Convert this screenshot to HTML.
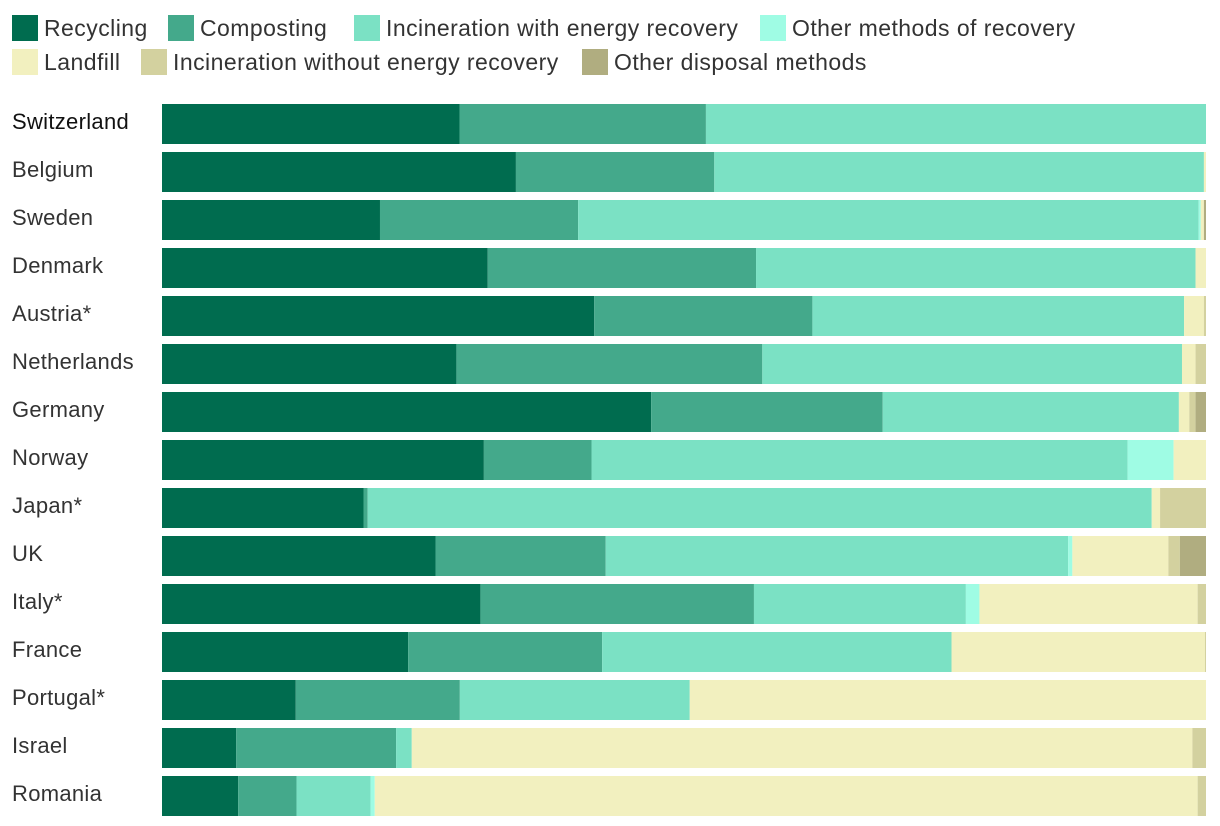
<!DOCTYPE html>
<html><head><meta charset="utf-8">
<style>
body{margin:0;width:1220px;height:826px;background:#fff;font-family:"Liberation Sans",sans-serif;color:#333;overflow:hidden;position:relative}
.lg{position:absolute;display:flex;align-items:center;font-size:23px;height:28px;letter-spacing:0.45px}
.lg span.sw{width:26px;height:26px;margin-right:6px;display:inline-block}
.lab{position:absolute;left:12px;font-size:22px;line-height:40px;letter-spacing:0.3px}
</style></head><body>
<div id="legend"></div>
<svg id="chart" width="1220" height="826" style="position:absolute;left:0;top:0"></svg>
<div id="labels"></div>
<script>
const countries=["Switzerland","Belgium","Sweden","Denmark","Austria*","Netherlands","Germany","Norway","Japan*","UK","Italy*","France","Portugal*","Israel","Romania"];
const seriesNames=["Recycling","Composting","Incineration with energy recovery","Other methods of recovery","Landfill","Incineration without energy recovery","Other disposal methods"];
const recycling=[28.5,33.9,20.9,31.2,41.4,28.2,46.9,30.8,19.3,26.2,30.5,23.6,12.8,7.1,7.3];
const composting=[23.6,19.0,19.0,25.7,20.9,29.3,22.2,10.3,0.4,16.3,26.2,18.6,15.7,15.3,5.6];
const incinEnergy=[47.9,46.9,59.5,42.1,35.6,40.2,28.4,51.3,75.1,44.3,20.3,33.5,22.0,1.5,7.1];
const otherRecovery=[0,0,0.2,0,0,0,0,4.4,0,0.4,1.3,0,0,0,0.4];
const landfill=[0,0.2,0.3,1.0,1.9,1.3,1.0,3.1,0.8,9.2,20.9,24.3,49.4,74.7,78.9];
const incinNoEnergy=[0,0,0,0,0.2,1.0,0.6,0,4.4,1.1,0.8,0.1,0,1.3,0.8];
const otherDisposal=[0,0,0.2,0,0,0,1.0,0,0,2.5,0,0,0,0,0];
const series=[recycling,composting,incinEnergy,otherRecovery,landfill,incinNoEnergy,otherDisposal];
const colors=["#006c4f","#44a98b","#7be1c4","#9ffce4","#f2f0bf","#d3d19f","#b0ad80"];
const x0=162,x1=1206,y0=104,step=48,bh=40;
const sx=v=>x0+(x1-x0)*v/100;
const svg=document.getElementById('chart');const NS="http://www.w3.org/2000/svg";
countries.forEach((c,i)=>{
  const tot=series.reduce((s,a)=>s+a[i],0);let acc=0;
  series.forEach((a,k)=>{
    const v=a[i]/tot*100;if(v<=0)return;
    const r=document.createElementNS(NS,'rect');
    r.setAttribute('x',sx(acc));r.setAttribute('width',sx(acc+v)-sx(acc));
    r.setAttribute('y',y0+i*step);r.setAttribute('height',bh);r.setAttribute('fill',colors[k]);
    
    
    svg.appendChild(r);acc+=v;
  });
  const l=document.createElement('div');l.className='lab';l.textContent=c;
  l.style.top=(y0+i*step-2)+'px';if(i==0)l.style.color='#111';
  
  
  document.getElementById('labels').appendChild(l);
});
const lpos=[[12,14],[168,14],[354,14],[760,14],[12,48],[141,48],[582,48]];
seriesNames.forEach((n,k)=>{
  const d=document.createElement('div');d.className='lg';
  d.style.left=lpos[k][0]+'px';d.style.top=lpos[k][1]+'px';
  d.innerHTML='<span class="sw" style="background:'+colors[k]+'"></span>'+n;
  
  
  document.getElementById('legend').appendChild(d);
});
</script>
</body></html>
